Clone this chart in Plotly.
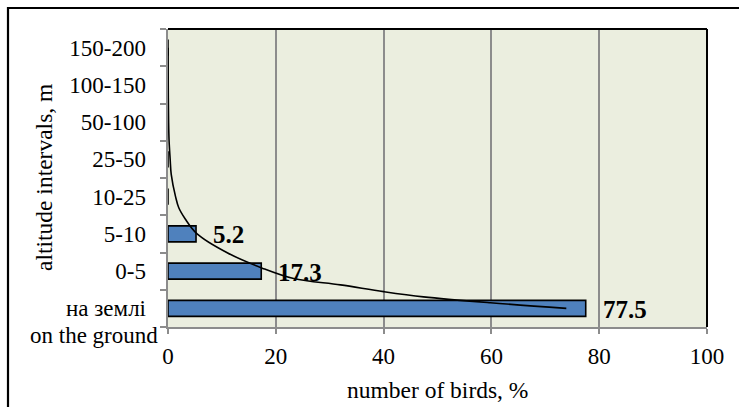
import plotly.graph_objects as go

# Altitude intervals, bottom to top
categories = ["на землі", "0-5", "5-10", "10-25", "25-50", "50-100", "100-150", "150-200"]
# Share of birds in each interval, %
birds_pct = [77.5, 17.3, 5.2, 0, 0, 0, 0, 0]
value_labels = ["77.5", "17.3", "5.2"]

# Trend curve: category position (0 = on the ground) and value, %
trend_pos = [7.0, 6.0, 5.0, 4.5, 4.0, 3.6, 3.0, 2.7, 2.4, 2.0, 1.5, 1.08, 0.8, 0.63, 0.45, 0.31, 0.15, 0.0]
trend_val = [0.02, 0.04, 0.11, 0.2, 0.4, 0.6, 1.4, 2.0, 3.2, 5.4, 10.9, 17.5, 23.3, 32.0, 40.0, 47.4, 59.8, 73.9]

x_ticks = [0, 20, 40, 60, 80, 100]

W, H = 739, 407
L, R, T, B = 168, 32, 29, 80
pw, ph = W - L - R, H - T - B

def px_x(px):
    return (px - L) / pw

def px_y(py):
    return (H - B - py) / ph

serif = "Liberation Serif"
positions = list(range(len(categories)))

fig = go.Figure()
fig.add_trace(go.Bar(
    x=birds_pct, y=positions, orientation="h", width=0.43,
    marker=dict(color="#4F81BD", line=dict(color="black", width=1.6)),
    hoverinfo="x+y", showlegend=False,
))
fig.add_trace(go.Scatter(
    x=trend_val, y=trend_pos, mode="lines",
    line=dict(color="black", width=1.6, shape="spline", smoothing=1.0),
    showlegend=False, hoverinfo="skip",
))

annotations = []
for i, txt in enumerate(value_labels):
    annotations.append(dict(
        x=birds_pct[i], y=positions[i], xref="x", yref="y",
        text=f"<b>{txt}</b>", showarrow=False, xanchor="left", yanchor="middle",
        xshift=15, yshift=-1, font=dict(family=serif, size=25, color="black"),
    ))
annotations += [
    dict(x=px_x(160), y=px_y(335), xref="paper", yref="paper", text="on the ground",
         showarrow=False, xanchor="right", yanchor="middle",
         font=dict(family=serif, size=23, color="black")),
    dict(x=0.5, y=px_y(390), xref="paper", yref="paper", text="number of birds, %",
         showarrow=False, xanchor="center", yanchor="middle",
         font=dict(family=serif, size=23.5, color="black")),
    dict(x=px_x(44), y=0.5, xref="paper", yref="paper", text="altitude intervals, m",
         showarrow=False, textangle=-90, xanchor="center", yanchor="middle",
         font=dict(family=serif, size=23.5, color="black")),
]

shapes = [
    # outer frame
    dict(type="rect", xref="paper", yref="paper",
         x0=px_x(8), x1=px_x(760), y0=px_y(430), y1=px_y(8),
         line=dict(color="black", width=2.2), fillcolor="rgba(0,0,0,0)", layer="above"),
    # top and right edges of plot area
    dict(type="line", xref="paper", yref="paper", x0=0, x1=1, y0=1, y1=1,
         line=dict(color="black", width=2), layer="above"),
    dict(type="line", xref="paper", yref="paper", x0=1, x1=1, y0=0, y1=1,
         line=dict(color="black", width=2), layer="above"),
]

fig.update_layout(
    width=W, height=H,
    margin=dict(l=L, r=R, t=T, b=B),
    paper_bgcolor="white", plot_bgcolor="#EBEEDF",
    font=dict(family=serif, size=23, color="black"),
    annotations=annotations, shapes=shapes,
    xaxis=dict(
        range=[0, 100], tickvals=x_ticks, ticktext=[str(v) for v in x_ticks],
        showgrid=True, gridcolor="#8C8C8C", gridwidth=1.5,
        showline=True, linecolor="#8C8C8C", linewidth=1.5,
        ticks="outside", ticklen=5, tickcolor="#8C8C8C", tickwidth=1.5,
        ticklabelstandoff=3, zeroline=False,
        tickfont=dict(family=serif, size=23, color="black"),
    ),
    yaxis=dict(
        range=[-0.5, 7.5], tickvals=[p - 0.5 for p in positions[1:]] + [7.5, -0.5],
        ticktext=[""] * 9,
        showgrid=False, zeroline=False,
        showline=True, linecolor="#8C8C8C", linewidth=1.5,
        ticks="outside", ticklen=6, tickcolor="#8C8C8C", tickwidth=1.5,
    ),
    yaxis2=dict(
        overlaying="y", range=[-0.5, 7.5], tickvals=positions, ticktext=categories,
        side="left", showgrid=False, zeroline=False, showline=False,
        ticks="", ticklabelstandoff=21,
        tickfont=dict(family=serif, size=23, color="black"),
        anchor="x",
    ),
)
# invisible trace to carry the category labels on the second y axis
fig.add_trace(go.Scatter(x=[None], y=[None], yaxis="y2", showlegend=False, hoverinfo="skip"))

fig.write_html("out.html")
